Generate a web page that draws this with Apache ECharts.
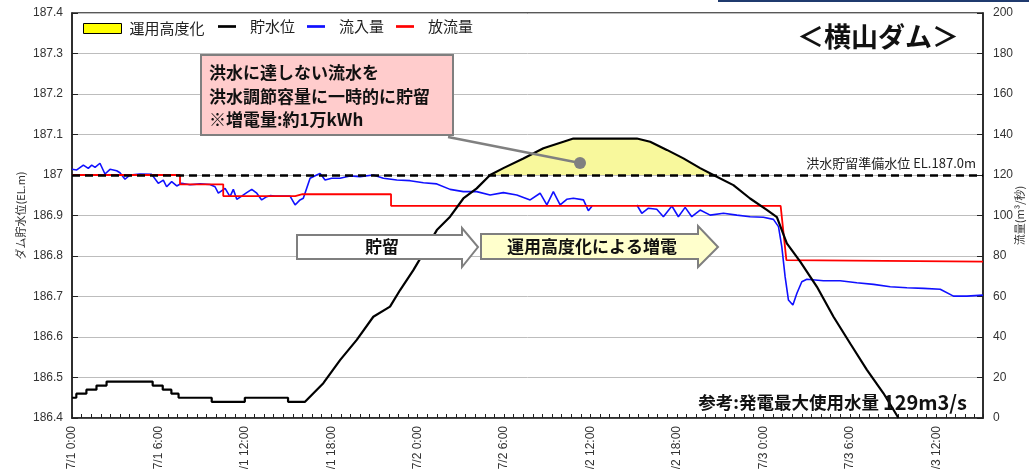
<!DOCTYPE html>
<html>
<head>
<meta charset="utf-8">
<script src="https://cdn.jsdelivr.net/npm/echarts@6/dist/echarts.min.js"></script>
<style>
html,body{margin:0;padding:0;background:#fff;}
#chart{width:1029px;height:469px;}
</style>
</head>
<body>
<div id="chart"></div>
<script>
// 横軸の目盛ラベル (6時間ごと)
var xTickLabels = ['7/1 0:00','7/1 6:00','7/1 12:00','7/1 18:00','7/2 0:00','7/2 6:00','7/2 12:00','7/2 18:00','7/3 0:00','7/3 6:00','7/3 12:00'];

// 貯水位 (時間, EL.m)
var levelHours = [0,0.3,0.3,1.0,1.0,1.7,1.7,2.4,2.4,5.6,5.6,6.3,6.3,6.9,6.9,7.4,7.4,9.7,9.7,12.0,12.0,15.0,15.0,
    16.18,17.45,18.61,19.77,20.92,22.08,22.78,23.70,24.40,25.33,26.25,27.17,28.10,29.03,29.95,31.34,32.73,34.12,34.81,
    39.22,40.14,41.30,42.45,43.61,44.53,45.92,47.08,48.24,48.94,49.63,50.56,51.72,52.87,54.03,55.19,56.34,57.38];
var levelValues = [186.45,186.45,186.46,186.46,186.47,186.47,186.48,186.48,186.49,186.49,186.48,186.48,186.47,186.47,186.46,186.46,186.45,186.45,186.44,186.44,186.45,186.45,186.44,
    186.44,186.486,186.543,186.593,186.65,186.675,186.716,186.765,186.807,186.864,186.897,186.942,186.967,187.0,187.017,187.041,187.066,187.082,187.09,
    187.09,187.082,187.062,187.041,187.017,187.0,186.975,186.942,186.914,186.896,186.831,186.786,186.724,186.65,186.584,186.519,186.461,186.40];

// 流入量 (時間, m3/s)
var inflowHours = [0,0.33,0.79,1.13,1.37,1.60,1.94,2.29,2.64,3.10,3.33,3.68,4.03,4.72,5.53,5.65,5.99,6.34,6.57,6.92,
    7.27,7.62,8.19,8.89,9.58,9.93,10.16,10.63,10.97,11.20,11.44,11.78,12.13,12.48,12.83,13.17,13.52,13.75,14.10,15.14,
    15.49,15.83,16.06,16.53,16.99,17.22,17.57,18.03,18.61,19.31,20.0,20.92,21.62,22.55,23.47,24.40,25.33,26.25,27.17,28.10,
    29.03,29.95,30.88,31.81,32.5,32.97,33.42,33.89,34.35,34.81,35.51,35.85,36.11,37.5,39.22,39.56,40.02,40.6,41.06,41.65,
    42.1,42.57,43.03,43.61,44.31,45.23,46.16,47.08,48.0,48.7,49.05,49.28,49.51,49.74,50.05,50.33,50.67,51.02,52.17,53.33,
    54.49,55.65,56.81,57.97,59.13,60.28,61.20,62.13,63.25];
var inflowValues = [122.8,122.5,124.9,123.3,124.9,123.8,125.8,120.5,122.8,122.1,121.1,117.9,120,120.5,120.3,119.2,115.9,117.5,114.2,116.7,
    114.6,115.9,115.2,115.6,115.3,114.2,111,113.4,109.3,112.9,108,109.6,111.3,112.9,111,107.7,109.3,109.8,109.6,109.6,
    105.2,107.7,108.5,118.4,120,120.8,117.5,118.4,118.4,119.5,119.2,120,118.4,117.5,117.2,116.2,115.6,112.9,111.8,111.8,
    110.1,111.3,110.1,107.7,111,105.2,111.8,105.2,108,108.5,107.7,102.4,104.7,null,105.2,101.1,103.6,103.1,99.4,104.7,
    99.4,104,99.4,102.7,100.2,101.1,100.2,99.4,99.1,98.1,94.5,84.6,69.8,58.3,55.8,61.6,67.3,68.5,67.8,67.8,
    66.8,66,64.8,64.3,64,63.6,60.2,60.2,60.7];

// 放流量 (時間, m3/s)
var outflowHours = [0,7.5,7.5,10.5,10.5,15.5,16.0,22.15,22.15,49.2,49.6,63.25];
var outflowValues = [120,120,115.4,115.4,109.6,109.6,110.5,110.5,104.8,104.8,78.0,77.2];

var prepLevel = 187.0;

function pairs(hs, vs) {
    return hs.map(function (h, i) { return [h, vs[i] == null ? '-' : vs[i]]; });
}
var levelData = pairs(levelHours, levelValues);
var upperData = levelData.filter(function (p) { return p[0] > 28 && p[0] < 45 && p[1] >= prepLevel; });

var chart = echarts.init(document.getElementById('chart'));
var jp = '"Noto Sans CJK JP", sans-serif';
var barIcon = 'path://M0,0H20V3H0Z';
var option = {
    animation: false,
    backgroundColor: '#fff',
    grid: {left: 72, right: 46, top: 13, bottom: 51, outerBoundsMode: 'none', containLabel: false,
        show: true, borderColor: '#222', borderWidth: 1.5, backgroundColor: '#fff'},
    legend: [
        {
            left: 78, top: 16, itemWidth: 38, itemHeight: 10, itemGap: 10,
            textStyle: {fontFamily: jp, fontSize: 15, color: '#222', padding: [0, 0, 0, 3]},
            data: [{name: '運用高度化', icon: 'rect', itemStyle: {color: '#FFFF00', borderColor: '#000', borderWidth: 1}}]
        },
        {
            left: 213, top: 14, itemWidth: 18, itemHeight: 14, itemGap: 12,
            textStyle: {fontFamily: jp, fontSize: 15, color: '#222', padding: [0, 0, 0, 9]},
            data: [
                {name: '貯水位', icon: barIcon},
                {name: '流入量', icon: barIcon},
                {name: '放流量', icon: barIcon}
            ]
        }
    ],
    xAxis: {
        type: 'value', min: 0, max: 63.25, interval: 6,
        axisLine: {show: true, lineStyle: {color: '#222', width: 1.5}},
        axisTick: {show: true, inside: true, length: 4, lineStyle: {color: '#222'}},
        minorTick: {show: true, splitNumber: 9, length: 4, lineStyle: {color: '#222'}},
        splitLine: {show: false},
        axisLabel: {
            rotate: 90, margin: 8, fontSize: 12, color: '#333', fontFamily: 'Liberation Sans',
            formatter: function (v) {
                var k = v / 6;
                return Math.abs(k - Math.round(k)) < 1e-6 ? (xTickLabels[Math.round(k)] || '') : '';
            }
        }
    },
    yAxis: [
        {
            type: 'value', min: 186.4, max: 187.4, interval: 0.1, position: 'left',
            name: 'ダム貯水位(EL.m)', nameLocation: 'middle', nameRotate: 90, nameGap: 46, nameMoveOverlap: false,
            nameTextStyle: {fontFamily: jp, fontSize: 11, color: '#333'},
            axisLine: {show: true, lineStyle: {color: '#222', width: 1.5}},
            axisTick: {show: true, inside: true, length: 6, lineStyle: {color: '#222'}},
            axisLabel: {margin: 9, fontSize: 12, color: '#333', fontFamily: 'Liberation Sans'},
            splitLine: {show: true, lineStyle: {color: '#bdbdbd', width: 1}}
        },
        {
            type: 'value', min: 0, max: 200, interval: 20, position: 'right',
            name: '流量(m³/秒)', nameLocation: 'middle', nameRotate: 90, nameGap: 31, nameMoveOverlap: false,
            nameTextStyle: {fontFamily: jp, fontSize: 11, color: '#333'},
            axisLine: {show: true, lineStyle: {color: '#222', width: 1.5}},
            axisTick: {show: true, inside: true, length: 6, lineStyle: {color: '#222'}},
            axisLabel: {margin: 10, fontSize: 12, color: '#333', fontFamily: 'Liberation Sans'},
            splitLine: {show: false}
        }
    ],
    series: [
        {
            name: '運用高度化', type: 'line', yAxisIndex: 0, data: upperData, symbol: 'none', z: 1,
            lineStyle: {width: 0, opacity: 0},
            itemStyle: {color: '#FFFF00'},
            areaStyle: {color: '#F8F89C', opacity: 1, origin: prepLevel}
        },
        {
            name: '流入量', type: 'line', yAxisIndex: 1, data: pairs(inflowHours, inflowValues), symbol: 'none', z: 3,
            lineStyle: {color: '#1010ff', width: 1.6}, itemStyle: {color: '#1010ff'}
        },
        {
            name: '放流量', type: 'line', yAxisIndex: 1, data: pairs(outflowHours, outflowValues), symbol: 'none', z: 3,
            lineStyle: {color: '#ff0000', width: 1.8}, itemStyle: {color: '#ff0000'}
        },
        {
            name: '貯水位', type: 'line', yAxisIndex: 0, data: levelData, symbol: 'none', z: 4,
            lineStyle: {color: '#000', width: 2.2}, itemStyle: {color: '#000'},
            markLine: {
                silent: true, symbol: ['none', 'none'],
                lineStyle: {color: '#000', type: [8, 5], width: 2.5},
                label: {show: true, position: 'insideEndTop', formatter: '洪水貯留準備水位 EL.187.0m',
                    fontFamily: jp, fontSize: 13, color: '#222', distance: [7, 5]},
                data: [{yAxis: prepLevel}]
            }
        }
    ],
    graphic: [
        {type: 'rect', shape: {x: 718, y: 0, width: 311, height: 2}, style: {fill: '#1f3a6e'}, silent: true},
        {type: 'text', left: 797, top: 23, style: {text: '＜横山ダム＞', font: 'bold 27px ' + jp, fill: '#111'}, z: 10},
        {type: 'rect', shape: {x: 201, y: 55, width: 252, height: 80}, style: {fill: '#FFCCCC', stroke: '#7f7f7f', lineWidth: 2}, z: 10},
        {type: 'text', x: 209, y: 61, style: {text: '洪水に達しない流水を\n洪水調節容量に一時的に貯留\n※増電量:約1万kWh',
            font: 'bold 17px ' + jp, fill: '#111', lineHeight: 23.5}, z: 11},
        {type: 'line', shape: {x1: 448, y1: 137, x2: 580, y2: 163}, style: {stroke: '#808080', lineWidth: 2.5}, z: 10},
        {type: 'circle', shape: {cx: 580, cy: 163, r: 6}, style: {fill: '#808080'}, z: 10},
        {type: 'polygon', shape: {points: [[297,235],[462,235],[462,228],[478,247],[462,267],[462,259],[297,259]]},
            style: {fill: '#fff', stroke: '#7f7f7f', lineWidth: 2}, z: 10},
        {type: 'text', x: 382, y: 247, style: {text: '貯留', font: 'bold 17px ' + jp, fill: '#111', align: 'center', verticalAlign: 'middle'}, z: 11},
        {type: 'polygon', shape: {points: [[481,234],[698,234],[698,226],[718,247],[698,267],[698,259],[481,259]]},
            style: {fill: '#FFFFCC', stroke: '#7f7f7f', lineWidth: 2}, z: 10},
        {type: 'text', x: 592, y: 247, style: {text: '運用高度化による増電', font: 'bold 17px ' + jp, fill: '#111', align: 'center', verticalAlign: 'middle'}, z: 11},
        {type: 'text', x: 967, y: 402, style: {text: '{a|参考:発電最大使用水量 }{b|129m3/s}', align: 'right', verticalAlign: 'middle',
            rich: {a: {font: 'bold 17.5px ' + jp, fill: '#111'}, b: {font: 'bold 20px ' + jp, fill: '#111'}}}, z: 11}
    ]
};
chart.setOption(option);
</script>
</body>
</html>
